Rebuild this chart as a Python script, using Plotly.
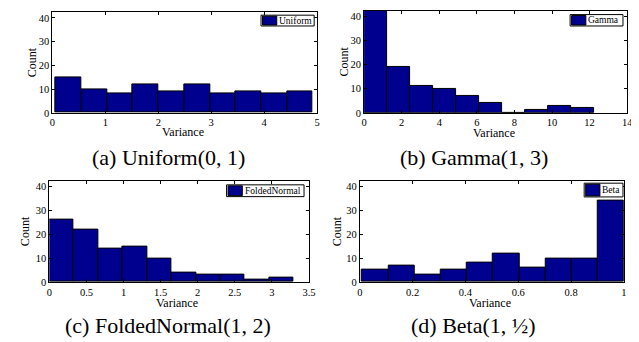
import plotly.graph_objects as go

# ---- data ----
uniform_edges = [0.056, 0.553, 1.039, 1.517, 2.002, 2.488, 2.979, 3.464, 3.943, 4.428, 4.913]
uniform_counts = [15, 10, 8, 12, 9, 12, 8, 9, 8, 9]

gamma_edges = [0.0, 1.224, 2.448, 3.672, 4.896, 6.12, 7.344, 8.568, 9.792, 11.016, 12.24]
gamma_counts = [45, 19, 11, 10, 7, 4, 0, 1, 3, 2]

folded_edges = [0.0, 0.329, 0.659, 0.988, 1.317, 1.647, 1.976, 2.305, 2.634, 2.964, 3.293]
folded_counts = [26, 22, 14, 15, 10, 4, 3, 3, 1, 2]

beta_edges = [0.009, 0.108, 0.207, 0.306, 0.405, 0.505, 0.604, 0.703, 0.802, 0.901, 1.0]
beta_counts = [5, 7, 3, 5, 8, 12, 6, 10, 10, 34]

names = ["Uniform", "Gamma", "FoldedNormal", "Beta"]
captions = ["(a) Uniform(0, 1)", "(b) Gamma(1, 3)", "(c) FoldedNormal(1, 2)", "(d) Beta(1, ½)"]
x_ranges = [[0, 5], [0, 14], [0, 3.5], [0, 1]]
x_ticks = [[0, 1, 2, 3, 4, 5],
           [0, 2, 4, 6, 8, 10, 12, 14],
           [0, 0.5, 1, 1.5, 2, 2.5, 3, 3.5],
           [0, 0.2, 0.4, 0.6, 0.8, 1]]
y_ticks = [0, 10, 20, 30, 40]

W, H = 639, 342
# plot areas in pixels: (left, right, top, bottom)
boxes = [(42, 311, 4.5, 106.7),
         (358.7, 626, 3, 106.7),
         (39, 302.7, 175.7, 279),
         (354.3, 622.7, 175.7, 279)]
# legend boxes in pixels: (left, right, top, bottom)
legend_boxes = [(254, 308, 7.3, 18.3),
                (568, 621.7, 6.7, 18.3),
                (219, 297.7, 180, 192),
                (582.3, 621.7, 178.3, 192.3)]
ylabel_x = [21, 338, 15, 332]
xlabel_y = [126, 127.5, 300, 300]
caption_pos = [(160, 152), (470, 152), (160, 323.5), (470, 323.5)]

BAR = "#00008F"
FONT = "Liberation Serif"

fig = go.Figure()
data = [(uniform_edges, uniform_counts), (gamma_edges, gamma_counts),
        (folded_edges, folded_counts), (beta_edges, beta_counts)]

def px(x):
    return x / W

def py(y):
    return 1 - y / H

for i, ((edges, counts), name) in enumerate(zip(data, names)):
    mids = [(a + b) / 2 for a, b in zip(edges[:-1], edges[1:])]
    widths = [b - a for a, b in zip(edges[:-1], edges[1:])]
    suffix = "" if i == 0 else str(i + 1)
    fig.add_trace(go.Bar(
        x=mids, y=counts, width=widths, name=name,
        marker=dict(color=BAR, line=dict(color="black", width=1)),
        xaxis="x" + suffix, yaxis="y" + suffix, showlegend=False,
    ))
    l, r, t, b = boxes[i]
    axcommon = dict(showline=True, linecolor="black", linewidth=1, mirror="ticks",
                    ticks="inside", ticklen=3, tickcolor="black",
                    showgrid=False, zeroline=False,
                    tickfont=dict(family=FONT, size=10.5, color="black"))
    fig.layout["xaxis" + suffix] = dict(
        domain=[px(l), px(r)], anchor="y" + suffix, range=x_ranges[i],
        tickvals=x_ticks[i], ticktext=[f"{v:g}" for v in x_ticks[i]],
        **axcommon)
    fig.layout["yaxis" + suffix] = dict(
        domain=[py(b), py(t)], anchor="x" + suffix, range=[0, 42.3],
        tickvals=y_ticks,
        **axcommon)

    # axis labels
    fig.add_annotation(text="Variance", x=px((l + r) / 2 - 2), y=py(xlabel_y[i]),
                       xref="paper", yref="paper", xanchor="center", yanchor="middle",
                       showarrow=False, font=dict(family=FONT, size=12, color="black"))
    fig.add_annotation(text="Count", x=px(ylabel_x[i]), y=py((t + b) / 2),
                       xref="paper", yref="paper", xanchor="center", yanchor="middle",
                       textangle=-90, showarrow=False,
                       font=dict(family=FONT, size=12, color="black"))

    # legend drawn as a small boxed key
    ll, lr, lt, lb = legend_boxes[i]
    fig.add_shape(type="rect", xref="paper", yref="paper",
                  x0=px(ll), x1=px(lr), y0=py(lb), y1=py(lt),
                  line=dict(color="black", width=1), fillcolor="white")
    fig.add_shape(type="rect", xref="paper", yref="paper",
                  x0=px(ll + 1.5), x1=px(ll + 16), y0=py(lb - 1), y1=py(lt + 1),
                  line=dict(color="black", width=1), fillcolor=BAR)
    fig.add_annotation(text=name, x=px(ll + 16.5), y=py((lt + lb) / 2), xref="paper", yref="paper",
                       xanchor="left", yanchor="middle", showarrow=False,
                       font=dict(family=FONT, size=9.5, color="black"))

    cx, cy = caption_pos[i]
    fig.add_annotation(text=captions[i], x=px(cx), y=py(cy), xref="paper", yref="paper",
                       xanchor="center", yanchor="middle", showarrow=False,
                       font=dict(family=FONT, size=22, color="black"))

fig.update_layout(width=W, height=H, margin=dict(l=0, r=0, t=0, b=0),
                  paper_bgcolor="white", plot_bgcolor="white", bargap=0)
fig.write_html("out.html")
